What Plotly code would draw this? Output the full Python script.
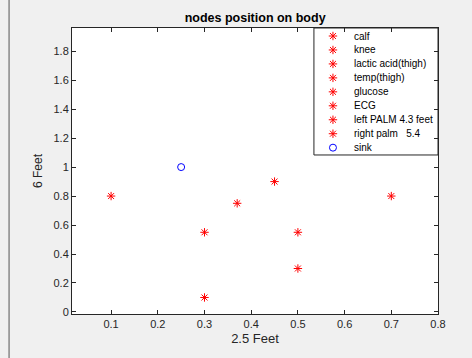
import plotly.graph_objects as go

names = ["calf", "knee", "lactic acid(thigh)", "temp(thigh)", "glucose", "ECG",
         "left PALM 4.3 feet", "right palm   5.4"]
xs = [0.3, 0.5, 0.3, 0.37, 0.5, 0.45, 0.1, 0.7]
ys = [0.1, 0.3, 0.55, 0.75, 0.55, 0.9, 0.8, 0.8]
sink_name = "sink"
sink_x = [0.25]
sink_y = [1.0]
xticks = [0.1, 0.2, 0.3, 0.4, 0.5, 0.6, 0.7, 0.8]
yticks = [0, 0.2, 0.4, 0.6, 0.8, 1, 1.2, 1.4, 1.6, 1.8]

RED = "#ff0000"
BLUE = "#0000ff"
star = dict(symbol="asterisk-open", size=7, color=RED, line=dict(color=RED, width=1))
ring = dict(symbol="circle-open", size=7, color=BLUE, line=dict(color=BLUE, width=1))

fig = go.Figure()
for n, x, y in zip(names, xs, ys):
    fig.add_trace(go.Scatter(x=[x], y=[y], mode="markers", name=n, marker=star,
                             showlegend=False))
fig.add_trace(go.Scatter(x=sink_x, y=sink_y, mode="markers", name=sink_name, marker=ring,
                         showlegend=False))

# manual legend (MATLAB-style compact rows) drawn on an overlay axis in paper fractions
leg_names = names + [sink_name]
leg_left, leg_right, leg_top, leg_bottom = 0.661, 1.0, 1.0, 0.556
row0, row_step = 0.972, 0.0488
sym_x, txt_x = 0.713, 0.764
leg_y = [row0 - i * row_step for i in range(len(leg_names))]
fig.add_trace(go.Scatter(x=[sym_x] * (len(leg_names) - 1), y=leg_y[:-1], mode="markers",
                         marker=star, xaxis="x2", yaxis="y2", showlegend=False,
                         hoverinfo="skip"))
fig.add_trace(go.Scatter(x=[sym_x], y=leg_y[-1:], mode="markers",
                         marker=ring, xaxis="x2", yaxis="y2", showlegend=False,
                         hoverinfo="skip"))

annotations = [dict(text=n, x=txt_x, y=yy, xref="paper", yref="paper", xanchor="left",
                    yanchor="middle", showarrow=False,
                    font=dict(size=10, color="#000000"))
               for n, yy in zip(leg_names, leg_y)]

axis_common = dict(showgrid=False, zeroline=False, showline=True, mirror="ticks",
                   linecolor="#262626", linewidth=1, ticks="inside", ticklen=4,
                   tickcolor="#262626", tickfont=dict(size=11, color="#262626"))

fig.update_layout(
    width=472, height=358,
    margin=dict(l=72, r=34, t=28, b=44),
    paper_bgcolor="#f0f0f0", plot_bgcolor="#ffffff",
    font=dict(family="Liberation Sans, Arial, sans-serif", color="#262626"),
    title=dict(text="<b>nodes position on body</b>", x=0.5405, xanchor="center",
               y=0.952, yanchor="middle", font=dict(size=12.5, color="#000000")),
    xaxis=dict(range=[0.0163, 0.8], tickvals=xticks,
               ticktext=[str(v) for v in xticks],
               title=dict(text="2.5 Feet", font=dict(size=13, color="#262626"), standoff=4),
               **axis_common),
    yaxis=dict(range=[-0.014, 1.96], tickvals=yticks,
               ticktext=[("%g" % v) for v in yticks],
               title=dict(text="6 Feet", font=dict(size=12, color="#262626"), standoff=8),
               **axis_common),
    xaxis2=dict(overlaying="x", range=[0, 1], visible=False, fixedrange=True),
    yaxis2=dict(overlaying="y", range=[0, 1], visible=False, fixedrange=True),
    showlegend=False,
    annotations=annotations,
    shapes=[dict(type="line", xref="paper", yref="paper", x0=-0.172, x1=-0.172,
                 y0=-0.2, y1=1.2, line=dict(color="#555555", width=1)),
            dict(type="rect", xref="paper", yref="paper", x0=leg_left, x1=leg_right,
                 y0=leg_bottom, y1=leg_top, fillcolor="#ffffff",
                 line=dict(color="#262626", width=1), layer="below")],
)

fig.write_html("out.html")
